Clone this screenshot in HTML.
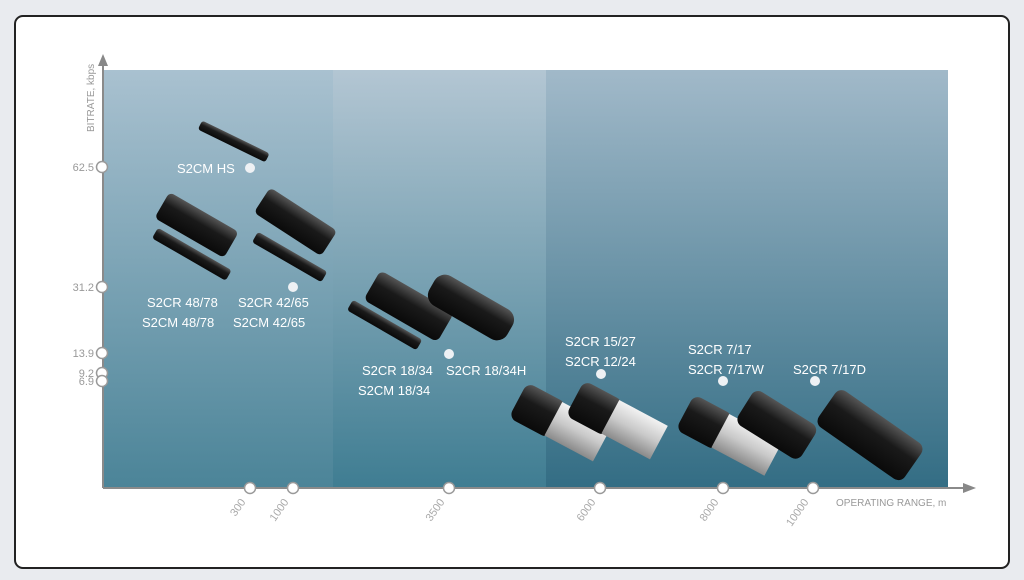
<!DOCTYPE html>
<html><head><style>
body{margin:0;width:1024px;height:580px;background:#e9ebef;font-family:"Liberation Sans",sans-serif;overflow:hidden}
#card{position:absolute;left:14px;top:15px;width:992px;height:550px;background:#fff;border:2px solid #222;border-radius:9px}
</style></head><body>
<div id="card"></div>
<svg width="1024" height="580" style="position:absolute;left:0;top:0">
<defs>
<linearGradient id="g1" x1="0" y1="0" x2="0" y2="1"><stop offset="0" stop-color="#a9c1d0"/><stop offset="1" stop-color="#4b8498"/></linearGradient>
<linearGradient id="g2" x1="0" y1="0" x2="0" y2="1"><stop offset="0" stop-color="#b3c6d3"/><stop offset="1" stop-color="#3f7d92"/></linearGradient>
<linearGradient id="g3" x1="0" y1="0" x2="0" y2="1"><stop offset="0" stop-color="#a1b9c9"/><stop offset="1" stop-color="#336d84"/></linearGradient>
<linearGradient id="blk" x1="0" y1="0" x2="0" y2="1"><stop offset="0" stop-color="#555"/><stop offset=".4" stop-color="#1a1a1a"/><stop offset="1" stop-color="#0a0a0a"/></linearGradient>
<linearGradient id="sil" x1="0" y1="0" x2="0" y2="1"><stop offset="0" stop-color="#f2f2f2"/><stop offset=".5" stop-color="#c9c9c9"/><stop offset="1" stop-color="#8a8a8a"/></linearGradient>
</defs>
<rect x="103" y="70" width="230" height="418" fill="url(#g1)"/>
<rect x="333" y="70" width="213" height="418" fill="url(#g2)"/>
<rect x="546" y="70" width="402" height="418" fill="url(#g3)"/>
<g stroke="#8a8a8a" stroke-width="2" fill="none">
<line x1="103" y1="62" x2="103" y2="488"/><line x1="103" y1="488" x2="965" y2="488"/>
</g>
<polygon points="103,54 98,66 108,66" fill="#888"/>
<polygon points="976,488 963,483 963,493" fill="#888"/>
<g fill="#fff" stroke="#999" stroke-width="1.5">
<circle cx="102" cy="167" r="5.5"/><circle cx="102" cy="287" r="5.5"/><circle cx="102" cy="353" r="5.5"/><circle cx="102" cy="373" r="5.5"/><circle cx="102" cy="381" r="5.5"/>
<circle cx="250" cy="488" r="5.5"/><circle cx="293" cy="488" r="5.5"/><circle cx="449" cy="488" r="5.5"/><circle cx="600" cy="488" r="5.5"/><circle cx="723" cy="488" r="5.5"/><circle cx="813" cy="488" r="5.5"/>
</g>
<g fill="#eef1f4">
<circle cx="250" cy="168" r="5"/><circle cx="293" cy="287" r="5"/><circle cx="449" cy="354" r="5"/><circle cx="601" cy="374" r="5"/><circle cx="723" cy="381" r="5"/><circle cx="815" cy="381" r="5"/>
</g>
<g font-size="11" fill="#999" text-anchor="end">
<text x="94" y="171">62.5</text><text x="94" y="291">31.2</text><text x="94" y="357">13.9</text><text x="94" y="377">9.2</text><text x="94" y="385">6.9</text>
</g>
<text transform="translate(94,132) rotate(-90)" font-size="10" fill="#999">BITRATE, kbps</text>
<g font-size="11" fill="#aaa" text-anchor="end">
<text transform="translate(246,502) rotate(-55)">300</text>
<text transform="translate(289,502) rotate(-55)">1000</text>
<text transform="translate(445,502) rotate(-55)">3500</text>
<text transform="translate(596,502) rotate(-55)">6000</text>
<text transform="translate(719,502) rotate(-55)">8000</text>
<text transform="translate(809,502) rotate(-55)">10000</text>
</g>
<text x="836" y="506" font-size="10" fill="#999">OPERATING RANGE, m</text>
<g font-size="13" fill="#fff">
<text x="177" y="173">S2CM HS</text>
<text x="147" y="307">S2CR 48/78</text><text x="142" y="327">S2CM 48/78</text>
<text x="238" y="307">S2CR 42/65</text><text x="233" y="327">S2CM 42/65</text>
<text x="362" y="375">S2CR 18/34</text><text x="446" y="375">S2CR 18/34H</text><text x="358" y="395">S2CM 18/34</text>
<text x="565" y="346">S2CR 15/27</text><text x="565" y="366">S2CR 12/24</text>
<text x="688" y="354">S2CR 7/17</text><text x="688" y="374">S2CR 7/17W</text>
<text x="793" y="374">S2CR 7/17D</text>
</g>
<!-- devices -->
<g>
<rect x="0" y="-5" width="75" height="10" rx="3" fill="url(#blk)" transform="translate(200,125) rotate(26)"/>
<rect x="0" y="-15" width="80" height="30" rx="5" fill="url(#blk)" transform="translate(162,205) rotate(30)"/>
<rect x="0" y="-6" width="85" height="12" rx="3" fill="url(#blk)" transform="translate(155,233) rotate(30)"/>
<rect x="0" y="-15" width="80" height="30" rx="5" fill="url(#blk)" transform="translate(262,200) rotate(33)"/>
<rect x="0" y="-6" width="80" height="12" rx="3" fill="url(#blk)" transform="translate(255,237) rotate(30)"/>
<rect x="0" y="-17" width="85" height="34" rx="6" fill="url(#blk)" transform="translate(372,285) rotate(30)"/>
<rect x="0" y="-17" width="90" height="34" rx="12" fill="url(#blk)" transform="translate(432,285) rotate(30)"/>
<rect x="0" y="-6" width="80" height="12" rx="3" fill="url(#blk)" transform="translate(350,305) rotate(30)"/>
<g transform="translate(518,400) rotate(28)"><rect x="0" y="-20" width="45" height="40" rx="8" fill="url(#blk)"/><rect x="40" y="-19" width="55" height="38" fill="url(#sil)"/></g>
<g transform="translate(575,398) rotate(28)"><rect x="0" y="-20" width="45" height="40" rx="8" fill="url(#blk)"/><rect x="40" y="-19" width="55" height="38" fill="url(#sil)"/></g>
<g transform="translate(685,412) rotate(28)"><rect x="0" y="-20" width="45" height="40" rx="8" fill="url(#blk)"/><rect x="40" y="-19" width="60" height="38" fill="url(#sil)"/></g>
<rect x="0" y="-20" width="75" height="40" rx="8" fill="url(#blk)" transform="translate(745,405) rotate(32)"/>
<rect x="0" y="-22" width="105" height="44" rx="8" fill="url(#blk)" transform="translate(827,405) rotate(35)"/>
</g>
</svg>
</body></html>
